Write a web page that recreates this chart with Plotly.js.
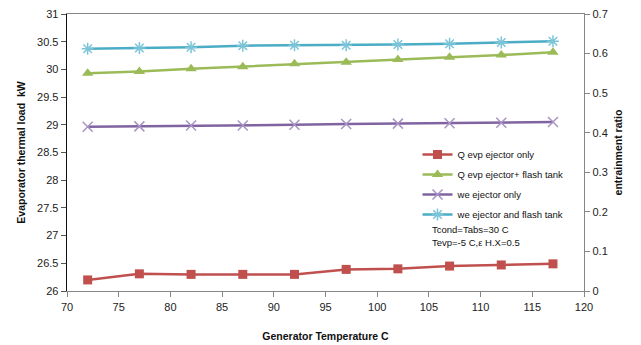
<!DOCTYPE html>
<html>
<head>
<meta charset="utf-8">
<script src="https://cdn.plot.ly/plotly-3.0.1.min.js"></script>
<style>html,body{margin:0;padding:0;background:#fff;}#chart{width:641px;height:345px;}</style>
</head>
<body>
<div id="chart"></div>
<script>
var genTemp = [72, 77, 82, 87, 92, 97, 102, 107, 112, 117];
var qEjectorOnly = [26.2, 26.31, 26.3, 26.3, 26.3, 26.39, 26.4, 26.45, 26.47, 26.49];
var qEjectorFlash = [29.93, 29.96, 30.01, 30.05, 30.1, 30.13, 30.18, 30.22, 30.26, 30.31];
var weEjectorOnly = [0.415, 0.416, 0.418, 0.418, 0.42, 0.422, 0.423, 0.424, 0.425, 0.427];
var weEjectorFlash = [0.612, 0.614, 0.616, 0.62, 0.621, 0.621, 0.623, 0.625, 0.628, 0.631];
var seriesNames = ["Q evp ejector only", "Q evp ejector+ flash tank", "we ejector only", "we ejector and flash tank"];
var noteLines = ["Tcond=Tabs=30 C", "Tevp=-5 C,\u03b5 H.X=0.5"];

var FONT = "Liberation Sans, Arial, sans-serif";
var traces = [
  {x: genTemp, y: qEjectorOnly, name: seriesNames[0], yaxis: "y", legendgroup: "a",
   mode: "lines+markers", line: {color: "#C0504D", width: 2.5},
   marker: {symbol: "square", size: 9, color: "#C0504D"}},
  {x: genTemp, y: qEjectorFlash, name: seriesNames[1], yaxis: "y", legendgroup: "b",
   mode: "lines+markers", line: {color: "#9BBB59", width: 2.5},
   marker: {symbol: "triangle-up", size: 10, color: "#9BBB59"}},
  {x: genTemp, y: weEjectorOnly, name: seriesNames[2], yaxis: "y2", legendgroup: "c",
   mode: "lines+markers", line: {color: "#8064A2", width: 2.5},
   marker: {symbol: "x-thin-open", size: 10, color: "#A995C4", line: {color: "#A995C4", width: 1.5}}},
  {x: genTemp, y: weEjectorFlash, name: seriesNames[3], yaxis: "y2", legendgroup: "d",
   mode: "lines+markers", line: {color: "#4BACC6", width: 2.5},
   marker: {symbol: "asterisk-open", size: 10, color: "#7CC5D8", line: {color: "#7CC5D8", width: 1.5}}}
];

var layout = {
  width: 641, height: 345,
  margin: {l: 67, r: 57, t: 14, b: 54},
  paper_bgcolor: "#fff", plot_bgcolor: "#fff",
  font: {family: FONT, size: 11, color: "#222"},
  showlegend: true,
  legend: {x: 0.678, y: 0.545, xanchor: "left", yanchor: "top", bgcolor: "rgba(0,0,0,0)",
           font: {family: FONT, size: 9.5, color: "#111"}, tracegroupgap: 1, itemwidth: 30},
  xaxis: {range: [70, 120], dtick: 5, tick0: 70, showgrid: false, zeroline: false,
          showline: true, linecolor: "#868686", linewidth: 1.3, mirror: true,
          ticks: "outside", ticklen: 5, tickcolor: "#868686",
          tickfont: {family: FONT, size: 11, color: "#222"},
          title: {text: "<b>Generator Temperature C</b>", font: {family: FONT, size: 10.5, color: "#111"}, standoff: 21}},
  yaxis: {range: [26, 31], dtick: 0.5, showgrid: false, zeroline: false,
          showline: true, linecolor: "#111", linewidth: 1.3,
          ticks: "outside", ticklen: 5, tickcolor: "#555",
          tickfont: {family: FONT, size: 11, color: "#222"},
          title: {text: "<b>Evaporator thermal load  kW</b>", font: {family: FONT, size: 10.5, color: "#111"}, standoff: 9}},
  yaxis2: {range: [0, 0.7], dtick: 0.1, overlaying: "y", side: "right", showgrid: false, zeroline: false,
           showline: true, linecolor: "#868686", linewidth: 1.3,
           ticks: "outside", ticklen: 5, tickcolor: "#868686",
           tickfont: {family: FONT, size: 11, color: "#222"},
           title: {text: "<b>entrainment ratio</b>", font: {family: FONT, size: 10.5, color: "#111"}, standoff: 8}},
  annotations: [
    {xref: "paper", yref: "paper", x: 0.703, y: 0.222, xanchor: "left", yanchor: "middle", showarrow: false,
     text: noteLines[0], font: {family: FONT, size: 9.5, color: "#111"}},
    {xref: "paper", yref: "paper", x: 0.703, y: 0.175, xanchor: "left", yanchor: "middle", showarrow: false,
     text: noteLines[1], font: {family: FONT, size: 9.5, color: "#111"}}
  ]
};

Plotly.newPlot("chart", traces, layout, {displayModeBar: false, staticPlot: true});
</script>
</body>
</html>
